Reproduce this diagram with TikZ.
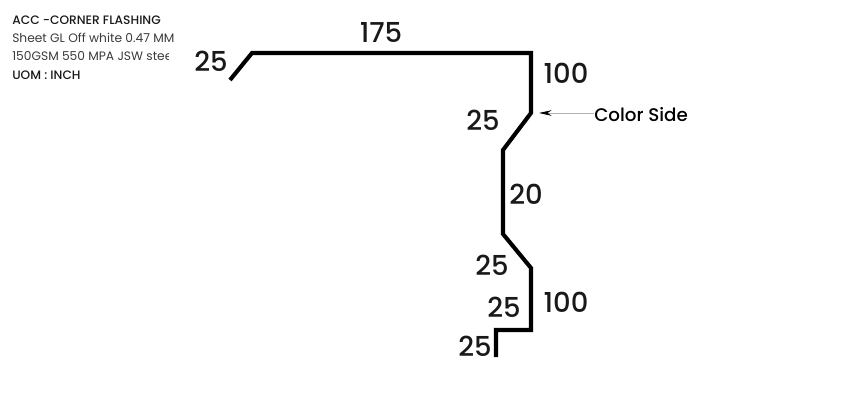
\documentclass[tikz,border=0pt]{standalone}
\usepackage{fontspec}
\setmainfont{Poppins}
\newfontfamily\medfont{Poppins Medium}
\usepackage{tikz}
\usetikzlibrary{arrows.meta, positioning, calc}
\definecolor{notegray}{HTML}{3A3A3A}
\tikzset{
  profile/.style={line width=2.9pt, line join=miter, black},
  dim/.style={font=\medfont\fontsize{19.5}{21}\selectfont, inner sep=0pt, text=black!90},
  note/.style={font=\fontsize{8.7}{10}\selectfont, inner sep=0pt, anchor=base west, text=notegray},
  notemed/.style={note, font=\medfont\fontsize{8.7}{10}\selectfont, text=black!90}
}

\begin{document}
\begin{tikzpicture}[x=0.025cm, y=0.025cm]
  \useasboundingbox (0, 0) rectangle (848, 402);

  % Header
  \node[notemed] (title) at (12, 377) {ACC -CORNER FLASHING};
  \node[note] (sheet) at (12, 359) {Sheet GL Off white 0.47 MM};
  \begin{scope}
    \clip (0, 330) rectangle (168, 355);
    \node[note] (grade) at (12, 341) {150GSM 550 MPA JSW stee};
  \end{scope}
  \node[notemed] (uom) at (12, 322) {UOM : INCH};

  % Bend points
  \coordinate (p1) at (230, 322);
  \coordinate (p2) at (252, 349);
  \coordinate (p3) at (531, 349);
  \coordinate (p4) at (531, 289);
  \coordinate (p5) at (503, 252);
  \coordinate (p6) at (503, 168);
  \coordinate (p7) at (531, 134);
  \coordinate (p8) at (531, 72);
  \coordinate (p9) at (496, 72);
  \coordinate (p10) at (496, 45);

  \draw[profile] (p1) -- (p2) -- (p3) -- (p4) -- (p5) -- (p6) -- (p7) -- (p8) -- (p9) -- (p10);

  % Dimensions
  \node[dim] (d175) at (381, 370) {175};
  \node[dim] (d25a) at (211, 341) {25};
  \node[dim] (d100a) at (566, 329) {100};
  \node[dim] (d25b) at (483, 282) {25};
  \node[dim] (d20) at (526, 208) {20};
  \node[dim] (d25c) at (492, 137) {25};
  \node[dim] (d25d) at (504, 95) {25};
  \node[dim] (d100b) at (566, 100) {100};
  \node[dim] (d25e) at (475, 56) {25};

  % Color side
  \coordinate (tip) at (539, 289);
  \node[font=\medfont\fontsize{13}{15}\selectfont, inner sep=0pt, anchor=west] (color) at (594, 287) {Color Side};
  \draw[-{Stealth[black, length=9pt, width=4pt]}, black!30, line width=0.6pt] (tip -| color.west) -- (tip);
\end{tikzpicture}
\end{document}
